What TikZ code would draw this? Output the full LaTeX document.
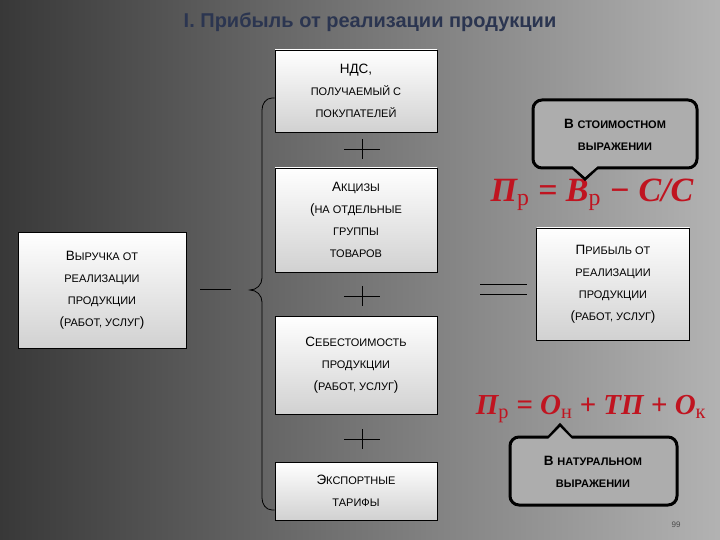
\documentclass[tikz,border=0pt]{standalone}
\usepackage{fontspec}
\setmainfont{Liberation Sans}
\newfontfamily\formfont{Liberation Serif}
\usetikzlibrary{positioning}
\definecolor{titleblue}{HTML}{2B3550}
\definecolor{formred}{HTML}{C01420}
\newcommand{\smc}[1]{{\fontsize{11}{12}\selectfont\MakeUppercase{#1}}}
\newcommand{\sub}[1]{\textsubscript{\normalfont\formfont #1}}
\tikzset{
  itembox/.style={draw=black, line width=0.8pt, top color=white, bottom color=black!18,
    minimum width=162pt, align=center, font=\fontsize{13.5}{22}\selectfont},
  callout/.style={draw=black, line width=3pt, fill=black!32, rounded corners=9pt},
  formula/.style={text=formred, font=\formfont\bfseries\itshape\fontsize{34}{34}\selectfont},
  plussign/.style={line width=0.8pt}
}
\begin{document}
\begin{tikzpicture}[x=1pt, y=-1pt]
  \useasboundingbox (0,0) rectangle (720,540);
  % background
  \shade[shading=axis, shading angle=70, left color=black!78, middle color=black!45, right color=black!30] (0,0) rectangle (720,540);
  \node[text=titleblue, font=\bfseries\fontsize{20}{24}\selectfont] (title) at (370,22) {I. Прибыль от реализации продукции};
  % left side
  \node[itembox, minimum width=168pt, minimum height=116pt] (revenue) at (102,290)
    {В\smc{ыручка от}\\\smc{реализации}\\\smc{продукции}\\(\smc{работ, услуг})};
  \coordinate (dashL) at (200,289);
  \coordinate (dashR) at (231,289);
  \draw[line width=0.8pt] (dashL) -- (dashR);
  % components
  \node[itembox, minimum height=82pt] (vat) at (356,91) {НДС,\\\smc{получаемый с}\\\smc{покупателей}};
  \node[itembox, minimum height=104pt] (excise) at (356,220) {А\smc{кцизы}\\(\smc{на отдельные}\\\smc{группы}\\\smc{товаров}};
  \node[itembox, minimum height=98pt] (cost) at (356,365) {С\smc{ебестоимость}\\\smc{продукции}\\(\smc{работ, услуг})};
  \node[itembox, minimum height=58pt] (export) at (356,491) {Э\smc{кспортные}\\\smc{тарифы}};
  \foreach \y in {149,296,439}{
    \draw[plussign] (344,\y) -- (380,\y);
    \draw[plussign] (362,\y-10) -- (362,\y+10);
  }
  % brace
  \draw[line width=0.8pt] (vat.west |- 0,98) -- (272,98) to[out=180,in=90] (262,110)
    -- (262,278) to[out=-90,in=0] (250,290) to[out=0,in=90] (262,302)
    -- (262,498) to[out=-90,in=180] (272,510) -- (export.west |- 0,510);
  % equals
  \draw[line width=0.8pt] (480,284) -- (527,284) (480,294) -- (527,294);
  \node[itembox, minimum width=153pt, minimum height=112pt] (profit) at (613,284)
    {П\smc{рибыль от}\\\smc{реализации}\\\smc{продукции}\\(\smc{работ, услуг})};
  % formulas
  \node[formula] (costform) at (592,195) {П\sub{р} = В\sub{р} − С/С};
  \node[formula, font=\formfont\bfseries\itshape\fontsize{29}{29}\selectfont] (natform) at (591,409)
    {П\sub{р} = О\sub{н} + ТП + О\sub{к}};
  % callouts
  \draw[callout] (533,100) rectangle (697,168);
  \draw[callout, rounded corners=0pt] (572,167) -- (585,179) -- (598,167);
  \fill[black!32] (571,165) -- (585,177) -- (599,165) -- cycle;
  \node[font=\bfseries\fontsize{13.5}{22}\selectfont, align=center] (costnote) at (615,135) {В \smc{стоимостном}\\\smc{выражении}};
  \draw[callout] (510,437) rectangle (677,505);
  \draw[callout, rounded corners=0pt] (548,438) -- (560,425) -- (572,438);
  \fill[black!32] (547,440) -- (560,427) -- (573,440) -- cycle;
  \node[font=\bfseries\fontsize{13.5}{22}\selectfont, align=center] (natnote) at (593,472) {В \smc{натуральном}\\\smc{выражении}};
  \node[font=\fontsize{8}{9}\selectfont, text=black!70] (page) at (676,525) {99};
\end{tikzpicture}
\end{document}
